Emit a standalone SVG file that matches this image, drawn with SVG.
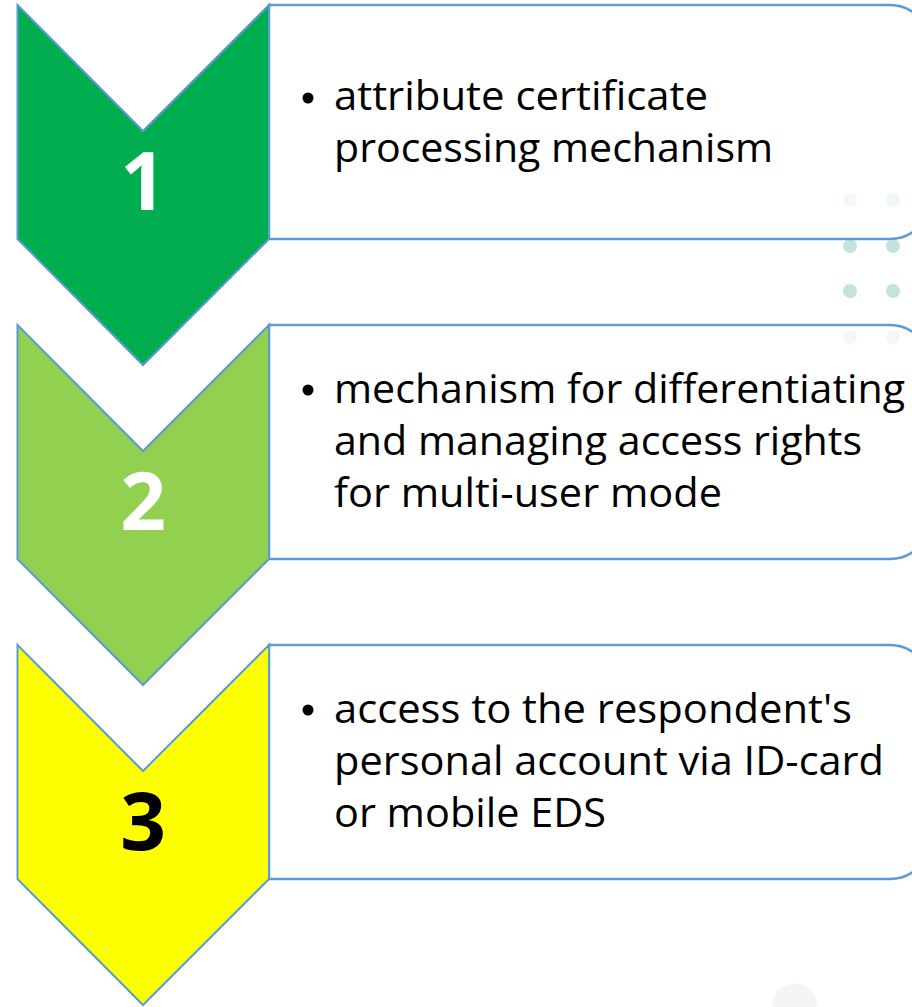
<svg xmlns="http://www.w3.org/2000/svg" width="912" height="1007" viewBox="0 0 912 1007">
<style>
.chev{stroke:#5b9bd5;stroke-width:2;stroke-linejoin:miter}
.box{fill:#ffffff;stroke:#5b9bd5;stroke-width:2.5}
.num{font-family:"Open Sans","Liberation Sans",sans-serif;font-weight:bold;font-size:80px;text-anchor:middle}
.txt{font-family:"Open Sans","Liberation Sans",sans-serif;font-size:40px;fill:#000000;font-variant-ligatures:none}
.dot{fill:#c6e2dc}
.fdot{fill:#f2f8f7}
</style>
<rect width="912" height="1007" fill="#ffffff"/>
<g id="decor">
<circle class="dot" cx="850" cy="246" r="7"/>
<circle class="dot" cx="893" cy="246" r="7"/>
<circle class="dot" cx="850" cy="291" r="7"/>
<circle class="dot" cx="893" cy="291" r="7"/>
<path d="M772,1007 Q774,990 782,987 Q795,980 808,987 Q816,992 818,1007 Z" fill="#f5f5f5"/>
</g>
<g id="node1">
<path class="box" d="M269,5 H890 A40,40 0 0 1 930,45 V199 A40,40 0 0 1 890,239 H269 Z"/>
<circle class="fdot" cx="850" cy="200" r="7"/>
<circle class="fdot" cx="893" cy="200" r="7"/>
<path class="chev" fill="#00ad4f" d="M17.5,5 L143,131 L269,5 L269,239 L143,365 L17.5,239 Z"/>
<text class="num" x="143" y="210" fill="#ffffff">1</text>
<circle cx="308" cy="98" r="5.5"/>
<text class="txt" x="334" y="110" textLength="374" lengthAdjust="spacingAndGlyphs">attribute certificate</text>
<text class="txt" x="334" y="162" textLength="439" lengthAdjust="spacingAndGlyphs">processing mechanism</text>
</g>
<g id="node2">
<path class="box" d="M269,325 H890 A40,40 0 0 1 930,365 V519 A40,40 0 0 1 890,559 H269 Z"/>
<circle class="fdot" cx="850" cy="337" r="7"/>
<circle class="fdot" cx="893" cy="337" r="7"/>
<path class="chev" fill="#92d050" d="M17.5,325 L143,451 L269,325 L269,559 L143,685 L17.5,559 Z"/>
<text class="num" x="143" y="530" fill="#ffffff">2</text>
<circle cx="308" cy="390" r="5.5"/>
<text class="txt" x="334" y="403" textLength="571" lengthAdjust="spacingAndGlyphs">mechanism for differentiating</text>
<text class="txt" x="334" y="455" textLength="528" lengthAdjust="spacingAndGlyphs">and managing access rights</text>
<text class="txt" x="334" y="507" textLength="388" lengthAdjust="spacingAndGlyphs">for multi-user mode</text>
</g>
<g id="node3">
<path class="box" d="M269,645 H890 A40,40 0 0 1 930,685 V839 A40,40 0 0 1 890,879 H269 Z"/>
<path class="chev" fill="#ffff00" d="M17.5,645 L143,771 L269,645 L269,879 L143,1005 L17.5,879 Z"/>
<text class="num" x="143" y="850" fill="#000000">3</text>
<circle cx="308" cy="710" r="5.5"/>
<text class="txt" x="334" y="723" textLength="518" lengthAdjust="spacingAndGlyphs">access to the respondent's</text>
<text class="txt" x="334" y="775" textLength="550" lengthAdjust="spacingAndGlyphs">personal account via ID-card</text>
<text class="txt" x="334" y="827" textLength="272" lengthAdjust="spacingAndGlyphs">or mobile EDS</text>
</g>
<g id="connectors"></g>
</svg>
